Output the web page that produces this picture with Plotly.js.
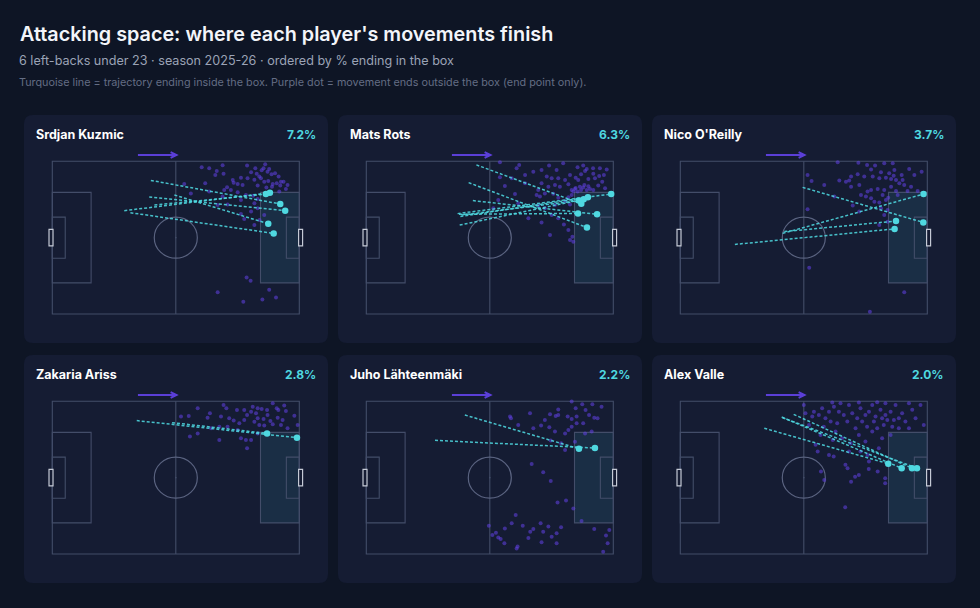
<!DOCTYPE html>
<html><head><meta charset="utf-8">
<script src="https://cdn.plot.ly/plotly-3.0.1.min.js"></script>
<style>html,body{margin:0;padding:0;background:#0e1525;}#chart{width:980px;height:608px;}</style>
</head><body><div id="chart"></div>
<script>
// ---------- DATA ----------
const players = ["Srdjan Kuzmic", "Mats Rots", "Nico O'Reilly", "Zakaria Ariss", "Juho Lähteenmäki", "Alex Valle"];
const pctInBox = [7.2, 6.3, 3.7, 2.8, 2.2, 2.0];

// Trajectories ending inside the box: [startX, startY, endX, endY] in metres (105 x 68 pitch)
const kuzmicRuns = [[41.9,59.5,96.9,49.0],[41.2,52.1,99.0,46.0],[51.9,53.0,91.8,40.2],[33.2,45.1,94.1,35.9],[30.6,46.0,92.5,54.0],[43.4,48.5,90.8,53.4]];
const rotsRuns = [[46.8,66.4,91.4,49.1],[43.5,58.5,93.8,38.5],[45.3,50.5,98.1,44.4],[38.8,44.7,104.1,53.4],[40.0,43.4,94.2,52.0],[39.7,39.6,92.4,51.1],[39.4,44.4,90.0,44.8],[40.5,44.1,90.3,50.5]];
const oreillyRuns = [[52.0,56.4,103.3,40.8],[43.5,35.9,103.4,53.4],[44.2,36.7,91.7,41.4],[23.2,31.0,91.1,37.9]];
const arissRuns = [[35.9,59.4,104.0,51.8],[50.9,58.5,91.3,53.7]];
const lahteenmakiRuns = [[41.9,61.9,90.4,46.9],[29.2,50.6,97.2,47.2]];
const valleRuns = [[35.7,56.0,88.4,40.2],[43.1,61.0,94.1,38.2],[48.2,62.2,98.5,38.2],[43.5,60.7,100.6,38.2]];

// End points of movements finishing outside the box: [x, y] in metres
const kuzmicOut = [[63.5,65.3],[66.7,64.9],[69.9,63.7],[69.3,61.9],[72.4,66.2],[72.8,62.4],[82.8,66.1],[86.3,64.9],[84.5,63.1],[86.9,62.5],[89.0,64.0],[90.5,66.7],[89.8,64.9],[91.5,63.4],[93.2,62.2],[92.2,64.6],[94.7,62.7],[96.2,61.2],[88.7,60.4],[88.0,61.2],[90.1,58.9],[91.8,59.2],[93.7,57.9],[95.4,58.2],[96.9,57.2],[98.3,58.9],[99.3,55.7],[93.4,56.7],[91.0,56.3],[87.3,57.2],[80.9,57.5],[78.8,57.9],[77.1,58.5],[75.9,55.2],[73.1,55.2],[65.0,58.2],[56.1,57.9],[58.9,53.7],[78.8,54.2],[82.3,53.0],[85.4,52.7],[87.3,51.2],[85.9,49.3],[80.2,50.8],[74.5,48.8],[70.3,48.5],[87.3,47.1],[84.5,45.6],[80.2,44.5],[81.6,42.3],[85.9,39.6],[90.1,44.1],[88.1,41.9],[96.5,54.5],[97.2,58.9],[100.0,57.5],[76.7,59.7],[80.2,60.7],[83.0,60.4],[85.9,59.8],[74.3,56.4],[72.4,52.3],[66.7,54.5],[82.6,16.2],[84.3,14.8],[92.2,10.8],[89.3,6.5],[95.1,7.3],[81.2,5.5],[70.3,9.7]];
const rotsOut = [[56.8,67.6],[65.0,66.4],[63.9,64.9],[77.7,66.1],[80.9,64.1],[83.7,67.1],[89.8,65.3],[92.2,66.1],[93.7,64.6],[96.4,64.9],[99.3,64.9],[102.2,64.4],[101.0,61.9],[99.0,61.5],[96.5,62.5],[93.0,63.7],[91.3,62.2],[89.0,60.7],[86.6,61.9],[84.5,59.7],[81.6,60.4],[78.8,60.4],[76.7,61.2],[74.5,58.2],[73.1,55.2],[72.4,53.0],[73.8,52.3],[75.9,53.7],[77.4,56.7],[80.2,57.5],[82.3,56.7],[85.9,57.8],[87.3,55.2],[88.7,55.7],[90.8,56.7],[92.2,56.3],[93.7,55.2],[95.1,55.7],[96.5,55.2],[89.8,54.5],[87.3,53.0],[85.9,52.0],[81.6,51.8],[79.5,53.6],[84.5,50.3],[80.2,48.5],[75.9,47.1],[73.1,48.3],[68.9,42.6],[63.2,53.4],[58.9,57.0],[56.8,60.9],[61.8,60.4],[67.5,58.2],[56.1,50.8],[54.0,47.1],[64.6,49.3],[74.5,40.8],[78.1,35.2],[84.0,39.9],[85.9,37.4],[87.6,34.4],[88.0,32.2],[86.6,33.0],[78.8,44.1],[81.6,42.6],[98.6,57.2],[101.5,56.0],[86.6,48.8],[90.1,59.7],[94.4,60.1],[97.2,60.4],[100.3,58.9],[71.0,63.4],[74.5,64.1],[67.5,61.9],[88.0,54.5],[89.0,56.1],[92.7,57.5],[94.4,56.9],[91.3,55.2]];
const oreillyOut = [[66.9,67.6],[75.7,67.4],[79.4,66.4],[82.8,66.1],[86.7,67.1],[90.3,67.1],[81.1,64.3],[85.3,63.1],[88.8,62.7],[91.0,64.1],[94.1,61.9],[97.3,64.6],[99.5,61.9],[102.6,63.4],[75.4,62.2],[71.8,59.5],[70.4,58.9],[67.6,59.4],[72.6,56.7],[76.1,57.5],[78.2,61.2],[81.8,61.2],[84.6,60.4],[87.4,60.7],[89.6,60.1],[91.7,59.7],[93.1,58.2],[95.2,57.5],[98.1,56.7],[100.9,54.8],[89.6,56.7],[86.7,55.2],[83.9,55.7],[81.1,55.2],[79.6,54.5],[76.8,53.0],[78.9,52.3],[81.1,51.5],[82.5,50.0],[84.6,49.7],[87.4,50.8],[85.3,47.1],[88.1,46.3],[86.7,44.1],[84.6,39.6],[88.1,41.1],[92.4,53.0],[96.6,54.8],[55.8,59.2],[54.1,61.9],[61.2,57.5],[65.5,52.3],[54.1,46.6],[54.8,20.6],[95.2,9.7],[80.6,1.0],[73.3,48.3],[76.1,45.6],[72.6,61.2],[91.7,54.8],[88.4,51.8],[86.0,53.0],[94.5,59.7],[90.7,61.6]];
const arissOut = [[61.8,64.9],[66.0,60.7],[67.0,62.7],[54.7,61.2],[58.0,61.5],[72.8,66.4],[74.0,64.9],[78.5,64.1],[81.6,64.1],[85.2,65.6],[87.3,64.9],[89.0,64.6],[84.5,63.4],[86.6,62.7],[82.8,61.9],[91.3,64.1],[93.7,67.1],[96.1,64.1],[98.6,66.1],[99.3,63.7],[102.9,61.6],[95.8,60.7],[97.9,59.7],[92.7,59.2],[89.8,60.1],[87.3,60.4],[85.9,58.9],[90.1,57.2],[88.0,57.5],[93.7,57.8],[97.2,57.5],[100.0,56.0],[104.3,57.5],[81.6,59.7],[79.5,58.2],[77.1,59.4],[74.5,56.7],[71.0,56.7],[67.5,56.0],[61.8,53.7],[58.5,52.3],[71.0,50.8],[80.2,51.5],[82.3,50.8],[84.5,50.8],[82.8,47.1],[87.3,53.7],[78.8,55.2],[95.4,64.9],[91.5,61.9],[75.2,60.4],[71.7,61.2]];
const lahteenmakiOut = [[61.1,61.2],[61.5,60.4],[69.6,62.7],[64.6,57.5],[71.0,56.0],[74.3,57.2],[77.8,56.4],[75.9,59.7],[80.5,61.5],[81.6,64.4],[81.6,61.9],[85.6,61.2],[87.3,67.9],[89.0,64.9],[89.4,61.2],[91.8,66.7],[93.2,64.1],[96.1,66.7],[94.7,61.9],[96.9,60.7],[98.3,60.4],[100.0,65.6],[92.2,58.2],[89.4,58.2],[87.3,56.7],[85.9,55.2],[84.5,53.7],[80.2,54.5],[78.4,50.5],[82.8,49.3],[84.5,46.3],[93.0,53.7],[95.8,54.5],[88.7,50.0],[87.3,60.1],[78.1,62.2],[70.3,40.1],[75.2,36.4],[78.4,32.5],[81.3,22.9],[84.9,23.8],[88.0,20.3],[52.1,12.6],[55.1,9.5],[57.1,6.7],[58.9,11.4],[61.8,13.7],[63.5,17.4],[66.5,12.6],[69.7,9.9],[68.9,7.1],[64.3,3.3],[63.9,2.5],[74.1,13.7],[75.2,9.9],[77.4,12.2],[78.8,7.7],[80.9,9.2],[82.8,11.9],[74.5,5.2],[71.0,11.1],[96.9,11.1],[101.9,8.2],[103.3,10.7],[102.6,4.8],[100.7,1.0],[58.7,4.8],[53.6,8.5],[56.1,7.3],[80.9,4.8],[91.5,14.7]];
const valleOut = [[52.5,66.4],[56.1,61.2],[56.8,63.4],[58.9,61.9],[60.3,64.9],[61.7,60.5],[63.2,63.4],[63.9,59.0],[65.3,65.6],[67.4,63.4],[68.1,67.1],[69.5,61.9],[71.0,59.0],[71.7,66.4],[73.1,62.7],[74.5,56.0],[75.2,60.5],[76.6,64.9],[77.3,59.0],[78.7,61.9],[80.2,63.4],[81.6,66.4],[82.3,59.0],[83.7,56.0],[85.1,64.2],[85.8,60.5],[87.2,61.9],[89.4,63.4],[90.8,59.7],[91.5,66.4],[92.9,60.5],[94.3,62.7],[95.7,59.0],[97.2,56.0],[98.6,64.2],[100.0,60.5],[102.1,66.4],[103.5,57.5],[66.0,54.5],[68.8,51.5],[72.4,49.3],[75.9,53.0],[78.7,50.1],[81.6,54.5],[84.4,47.1],[85.8,51.5],[76.6,45.6],[71.7,45.6],[70.2,39.7],[80.2,41.2],[75.9,35.2],[63.2,44.1],[59.6,53.0],[57.5,48.6],[54.7,57.5],[53.2,62.7],[89.4,53.0],[92.9,56.0],[61.0,56.7],[66.7,58.2],[64.6,67.5],[75.9,67.5],[87.2,67.1],[97.2,67.1],[83.7,67.6],[86.5,57.5],[90.1,56.7],[88.0,59.7],[83.0,61.2],[79.4,56.7],[58.4,45.6],[65.2,43.4],[72.6,32.2],[74.3,34.4],[70.1,20.8],[80.1,37.9],[83.9,36.7],[87.1,33.7],[87.1,31.5],[59.8,36.7],[61.2,33.0],[64.8,50.8],[71.1,38.2],[79.6,44.1]];

const runsByPlayer = [kuzmicRuns, rotsRuns, oreillyRuns, arissRuns, lahteenmakiRuns, valleRuns];
const outByPlayer = [kuzmicOut, rotsOut, oreillyOut, arissOut, lahteenmakiOut, valleOut];

const titleText = "Attacking space: where each player's movements finish";
const subtitleText = "6 left-backs under 23 · season 2025-26 · ordered by % ending in the box";
const noteText = "Turquoise line = trajectory ending inside the box. Purple dot = movement ends outside the box (end point only).";

// ---------- STYLE / LAYOUT ----------
const W = 980, H = 608;
const PAGE_BG = '#0e1525', CARD_BG = '#151c33';
const TURQ = '#4fd8e0', PURPLE = 'rgba(98,66,230,0.55)', ARROW_C = '#5b3fd8';
const LINE_C = '#434d69';
const cardX = [24, 338, 652], cardY = [115, 355], cardW = 304, cardH = 228;
const PL = 105, PWID = 68;
const offX = 28.3, offY = 46.3, pPxW = 247, pPxH = 152.7;
const sx = pPxW / PL, sy = pPxH / PWID;
const xr = [-4, 109], yr = [-3, 73];
const FONT = 'Inter, "Noto Sans", sans-serif';

function rr(x, y, w, h, r) {
  const x0 = x / W, x1 = (x + w) / W, yt = 1 - y / H, yb = 1 - (y + h) / H, rx = r / W, ry = r / H;
  return `M ${x0+rx},${yt} L ${x1-rx},${yt} Q ${x1},${yt} ${x1},${yt-ry} L ${x1},${yb+ry} Q ${x1},${yb} ${x1-rx},${yb} L ${x0+rx},${yb} Q ${x0},${yb} ${x0},${yb+ry} L ${x0},${yt-ry} Q ${x0},${yt} ${x0+rx},${yt} Z`;
}

const traces = [], shapes = [], annotations = [];
const layout = {
  width: W, height: H, margin: {l: 0, r: 0, t: 0, b: 0},
  paper_bgcolor: PAGE_BG, plot_bgcolor: 'rgba(0,0,0,0)', showlegend: false,
  font: {family: FONT, color: '#ffffff'}
};

annotations.push({xref:'paper', yref:'paper', x: 18/W, y: 1 - 34/H, xanchor:'left', yanchor:'middle', showarrow:false,
  text: titleText, font: {family: FONT, size: 19.8, color: '#f3f5fa', weight: 600}});
annotations.push({xref:'paper', yref:'paper', x: 17/W, y: 1 - 61/H, xanchor:'left', yanchor:'middle', showarrow:false,
  text: subtitleText, font: {family: FONT, size: 12.6, color: '#9ba3b6'}});
annotations.push({xref:'paper', yref:'paper', x: 17/W, y: 1 - 82/H, xanchor:'left', yanchor:'middle', showarrow:false,
  text: noteText, font: {family: FONT, size: 10.8, color: '#646d84'}});

players.forEach((name, i) => {
  const col = i % 3, row = Math.floor(i / 3);
  const cx = cardX[col], cy = cardY[row];
  shapes.push({type:'path', xref:'paper', yref:'paper', path: rr(cx, cy, cardW, cardH, 9), fillcolor: CARD_BG, line:{width:0}, layer:'below'});

  const left = cx + offX, top = cy + offY, bottom = top + pPxH;
  const n = i + 1, xa = 'x' + (n === 1 ? '' : n), ya = 'y' + (n === 1 ? '' : n);
  layout['xaxis' + (n === 1 ? '' : n)] = {domain: [(left + xr[0]*sx)/W, (left + xr[1]*sx)/W], range: xr, visible: false, fixedrange: true, anchor: ya};
  layout['yaxis' + (n === 1 ? '' : n)] = {domain: [1 - (bottom - yr[0]*sy)/H, 1 - (top - (yr[1]-PWID)*sy)/H], range: yr, visible: false, fixedrange: true, anchor: xa};

  const ln = {color: LINE_C, width: 1.1};
  const add = s => shapes.push(Object.assign({xref: xa, yref: ya, layer: 'below'}, s));
  // shaded attacking box
  add({type:'rect', x0: PL-16.5, x1: PL, y0: 34-20.16, y1: 34+20.16, fillcolor:'rgba(77,200,220,0.11)', line: ln});
  add({type:'rect', x0: 0, x1: PL, y0: 0, y1: PWID, line: ln});
  add({type:'line', x0: PL/2, x1: PL/2, y0: 0, y1: PWID, line: ln});
  add({type:'circle', x0: PL/2-9.15, x1: PL/2+9.15, y0: 34-9.15, y1: 34+9.15, line: {color:'#5a6380', width:1.2}});
  add({type:'circle', x0: PL/2-0.35, x1: PL/2+0.35, y0: 34-0.35, y1: 34+0.35, fillcolor: LINE_C, line: {width:0}});
  add({type:'rect', x0: 0, x1: 16.5, y0: 34-20.16, y1: 34+20.16, line: ln});
  add({type:'rect', x0: 0, x1: 5.5, y0: 34-9.16, y1: 34+9.16, line: ln});
  add({type:'rect', x0: PL-5.5, x1: PL, y0: 34-9.16, y1: 34+9.16, line: ln});
  add({type:'rect', x0: -1.4, x1: 0.3, y0: 34-3.66, y1: 34+3.66, fillcolor: CARD_BG, line: {color:'#c5cad6', width:1.2}});
  add({type:'rect', x0: PL-0.3, x1: PL+1.4, y0: 34-3.66, y1: 34+3.66, fillcolor: CARD_BG, line: {color:'#c5cad6', width:1.2}});
  // attack direction arrow
  add({type:'line', x0: 36.4, x1: 52.6, y0: 70.8, y1: 70.8, line: {color: ARROW_C, width: 2}, layer:'above'});
  add({type:'path', path: 'M 50.3,72.1 L 52.8,70.8 L 50.3,69.5', line: {color: ARROW_C, width: 2}, layer:'above'});

  const out = outByPlayer[i];
  traces.push({type:'scatter', mode:'markers', xaxis: xa, yaxis: ya, hoverinfo:'skip',
    x: out.map(p => p[0]), y: out.map(p => p[1]),
    marker: {size: 4, color: PURPLE, line: {width: 0}}});

  const runs = runsByPlayer[i];
  const lx = [], ly = [];
  runs.forEach(r => { lx.push(r[0], r[2], null); ly.push(r[1], r[3], null); });
  traces.push({type:'scatter', mode:'lines', xaxis: xa, yaxis: ya, hoverinfo:'skip', x: lx, y: ly,
    line: {color: 'rgba(79,216,224,0.88)', width: 1.5, dash: '3px,2px'}});
  traces.push({type:'scatter', mode:'markers', xaxis: xa, yaxis: ya, hoverinfo:'skip',
    x: runs.map(r => r[2]), y: runs.map(r => r[3]),
    marker: {size: 6.5, color: TURQ, line: {width: 0}}});

  annotations.push({xref:'paper', yref:'paper', x: (cx + 10)/W, y: 1 - (cy + 19)/H, xanchor:'left', yanchor:'middle', showarrow:false,
    text: name, font: {family: FONT, size: 12.5, color: '#ffffff', weight: 700}});
  annotations.push({xref:'paper', yref:'paper', x: (cx + cardW - 10)/W, y: 1 - (cy + 19)/H, xanchor:'right', yanchor:'middle', showarrow:false,
    text: pctInBox[i].toFixed(1) + '%', font: {family: FONT, size: 12, color: TURQ, weight: 700}});
});

layout.shapes = shapes;
layout.annotations = annotations;
Plotly.newPlot('chart', traces, layout, {displayModeBar: false, staticPlot: true});
</script>
</body></html>
